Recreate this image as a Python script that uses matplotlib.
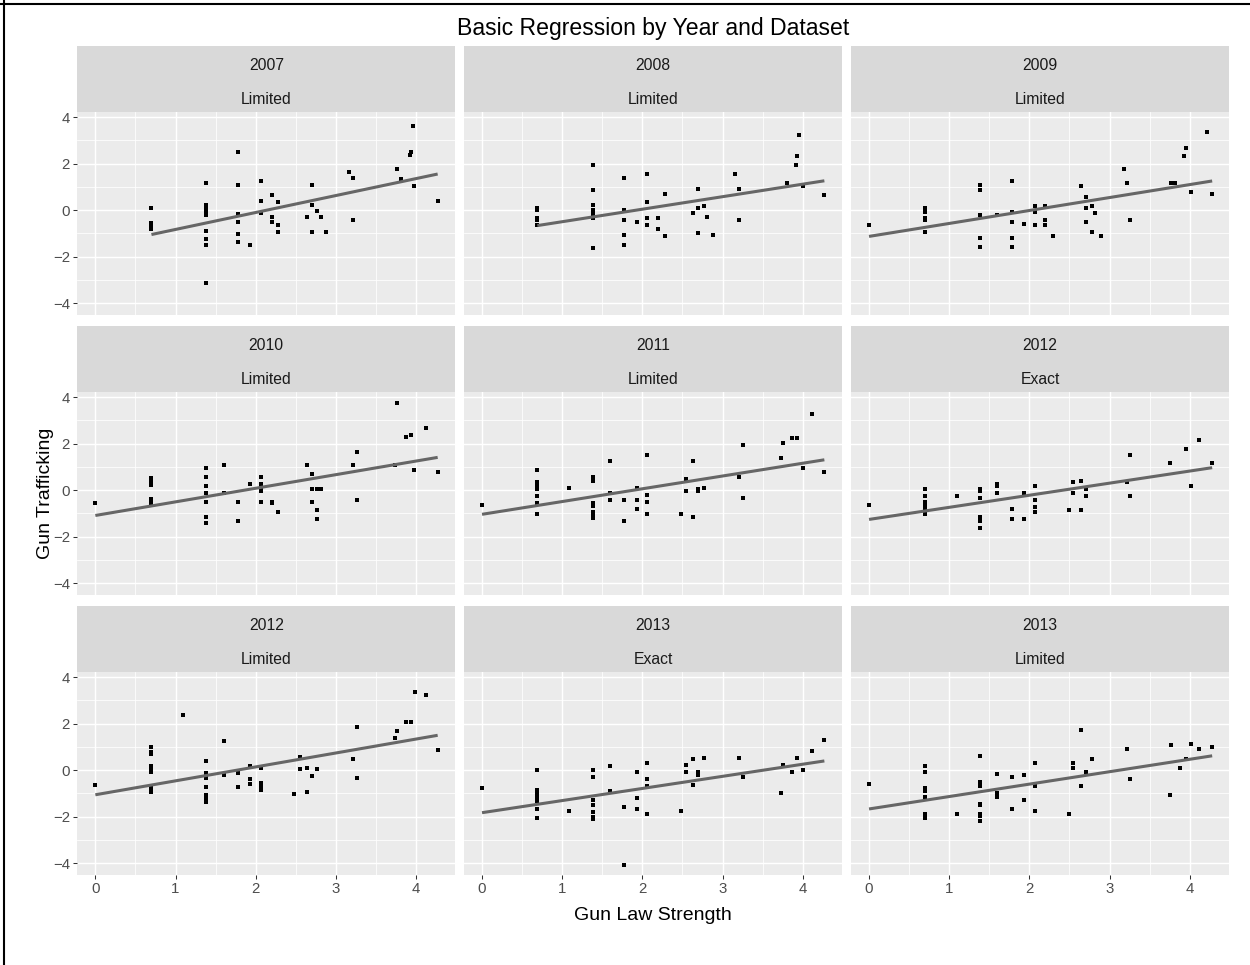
import matplotlib
matplotlib.use("Agg")
import matplotlib.pyplot as plt
import numpy as np
from matplotlib.lines import Line2D

plt.rcParams['font.family'] = ['Liberation Sans', 'DejaVu Sans']

# ---------------- data ----------------
panel_years = ["2007", "2008", "2009", "2010", "2011", "2012", "2012", "2013", "2013"]
panel_sets = ["Limited", "Limited", "Limited", "Limited", "Limited", "Exact", "Limited", "Exact", "Limited"]

x_2007_lim = [0.70]*5 + [1.38]*10 + [1.78]*6 + [1.93] + [2.07]*3 + [2.20]*3 + [2.28]*3 + [2.64] + [2.70]*3 + [2.77, 2.82, 2.88, 3.17, 3.21, 3.21, 3.76, 3.81, 3.92, 3.94, 3.96, 3.98, 4.27]
y_2007_lim = [0.10, -0.55, -0.65, -0.75, -0.82,
              1.18, 0.2, 0.1, 0.0, -0.1, -0.2, -0.89, -1.26, -1.5, -3.15,
              2.52, 1.09, -0.17, -0.5, -1.03, -1.35,
              -1.5,
              1.25, 0.4, -0.13,
              0.63, -0.29, -0.5,
              0.33, -0.66, -0.96,
              -0.29,
              1.09, 0.24, -0.96,
              -0.04, -0.29, -0.96, 1.62, 1.39, -0.43, 1.76, 1.32, 2.38, 2.52, 3.6, 1.02, 0.4]

x_2008_lim = [0.69]*5 + [1.38]*8 + [1.77]*5 + [1.93] + [2.06]*4 + [2.19]*2 + [2.28]*2 + [2.63] + [2.70]*3 + [2.77, 2.81, 2.88, 3.16, 3.21, 3.21, 3.80, 3.91, 3.93, 3.95, 4.00, 4.27]
y_2008_lim = [0.1, 0.01, -0.34, -0.43, -0.66,
              1.92, 0.86, 0.24, 0.0, -0.1, -0.17, -0.34, -1.65,
              1.39, 0.01, -0.43, -1.05, -1.5,
              -0.52,
              1.55, 0.33, -0.36, -0.66,
              -0.36, -0.82,
              0.7, -1.12,
              -0.13,
              0.93, 0.1, -0.97,
              0.17, -0.29, -1.05, 1.55, 0.93, -0.43, 1.16, 1.92, 2.31, 3.21, 1.02, 0.63]

x_2009_lim = [0.0] + [0.70]*6 + [1.38]*5 + [1.60] + [1.78]*5 + [1.93] + [2.07]*3 + [2.20]*3 + [2.29, 2.64] + [2.71]*3 + [2.78]*2 + [2.82, 2.89, 3.18, 3.22, 3.26, 3.77, 3.82, 3.93, 3.95, 4.01, 4.21, 4.28]
y_2009_lim = [-0.66,
              0.1, 0.01, -0.06, -0.36, -0.43, -0.96,
              1.09, 0.86, -0.2, -1.19, -1.58,
              -0.2,
              1.25, -0.06, -0.52, -1.19, -1.58,
              -0.59,
              0.17, -0.06, -0.66,
              0.17, -0.43, -0.66,
              -1.12, 1.02,
              0.56, 0.1, -0.52,
              0.17, -0.96,
              -0.13, -1.12, 1.78, 1.16, -0.43, 1.16, 1.16, 2.31, 2.68, 0.79, 3.37, 0.7]

x_2010_lim = [0.0] + [0.70]*6 + [1.38]*7 + [1.60]*2 + [1.78]*2 + [1.93] + [2.07]*5 + [2.20]*2 + [2.28, 2.64] + [2.70]*3 + [2.77]*3 + [2.82, 3.21, 3.26, 3.26, 3.74, 3.76, 3.88, 3.94, 3.98, 4.12, 4.27]
y_2010_lim = [-0.57,
              0.53, 0.43, 0.33, 0.2, -0.4, -0.55,
              0.94, 0.56, 0.19, -0.13, -0.5, -1.17, -1.41,
              1.1, -0.11,
              -0.5, -1.33,
              0.26,
              0.56, 0.26, 0.1, -0.04, -0.5,
              -0.5, -0.57,
              -0.96, 1.1,
              0.71, 0.04, -0.5,
              0.04, -0.87, -1.26,
              0.04, 1.1, 1.63, -0.41, 1.06, 3.74, 2.3, 2.39, 0.87, 2.69, 0.8]

x_2011_lim = [0.0] + [0.69]*7 + [1.09] + [1.38]*7 + [1.60]*3 + [1.77]*2 + [1.93]*3 + [2.06]*4 + [2.48] + [2.54]*2 + [2.63]*2 + [2.70]*2 + [2.77, 3.21, 3.25, 3.25, 3.73, 3.75, 3.87, 3.93, 4.00, 4.11, 4.27]
y_2011_lim = [-0.64,
              0.87, 0.34, 0.2, 0.07, -0.27, -0.57, -1.03,
              0.11,
              0.57, 0.4, -0.57, -0.69, -0.96, -1.1, -1.19,
              1.26, -0.11, -0.41,
              -0.41, -1.33,
              0.11, -0.41, -0.8,
              1.49, -0.19, -0.5, -1.03,
              -1.03,
              0.5, -0.04,
              1.26, -1.17,
              0.03, -0.04,
              0.11, 0.57, 1.93, -0.34, 1.4, 2.01, 2.23, 2.23, 0.94, 3.29, 0.8]

x_2012_exa = [0.0] + [0.70]*6 + [1.10] + [1.38]*6 + [1.60]*3 + [1.78]*2 + [1.93]*2 + [2.07]*4 + [2.49] + [2.55]*2 + [2.64]*2 + [2.71]*2 + [3.22, 3.26, 3.26, 3.75, 3.95, 4.01, 4.12, 4.28]
y_2012_exa = [-0.64,
              0.04, -0.27, -0.5, -0.69, -0.8, -1.03,
              -0.27,
              0.04, -0.04, -0.34, -1.17, -1.33, -1.63,
              0.26, 0.19, -0.11,
              -0.8, -1.26,
              -0.11, -1.26,
              0.19, -0.41, -0.71, -0.96,
              -0.87,
              0.34, -0.11,
              0.41, -0.87,
              0.04, -0.27,
              0.34, 1.49, -0.27, 1.17, 1.79, 0.19, 2.16, 1.17]

x_2012_lim = [0.0] + [0.70]*8 + [1.09] + [1.38]*7 + [1.60]*2 + [1.78]*2 + [1.93]*3 + [2.07]*4 + [2.48] + [2.55]*2 + [2.64]*2 + [2.70, 2.77, 3.21, 3.26, 3.26, 3.74, 3.76, 3.88, 3.94, 3.99, 4.12, 4.27]
y_2012_lim = [-0.64,
              0.99, 0.8, 0.71, 0.17, 0.0, -0.09, -0.76, -0.94,
              2.39,
              0.41, -0.11, -0.33, -0.73, -1.09, -1.2, -1.37,
              1.24, -0.2,
              -0.11, -0.73,
              0.19, -0.4, -0.6,
              0.11, -0.57, -0.7, -0.86,
              -1.03,
              0.57, 0.03,
              0.1, -0.96,
              -0.27, 0.03, 0.49, 1.86, -0.34, 1.4, 1.7, 2.07, 2.07, 3.37, 3.21, 0.87]

x_2013_exa = [0.0] + [0.69]*7 + [1.09] + [1.38]*7 + [1.60]*2 + [1.77]*2 + [1.93]*3 + [2.06]*4 + [2.48] + [2.54]*2 + [2.63]*2 + [2.70]*2 + [2.77, 3.21, 3.25, 3.73, 3.75, 3.87, 3.93, 4.00, 4.11, 4.27]
y_2013_exa = [-0.76,
              0.0, -0.87, -1.0, -1.15, -1.33, -1.67, -2.04,
              -1.74,
              0.0, -0.3, -1.29, -1.5, -1.81, -2.0, -2.1,
              0.16, -0.9,
              -1.59, -4.09,
              -0.07, -1.21, -1.67,
              0.31, -0.37, -0.67, -1.9,
              -1.74,
              0.23, -0.07,
              0.46, -0.63,
              -0.07, -0.19,
              0.53, 0.53, -0.3, -0.99, 0.23, -0.07, 0.53, 0.0, 0.84, 1.3]

x_2013_lim = [0.0] + [0.70]*7 + [1.10] + [1.38]*8 + [1.60]*3 + [1.78]*2 + [1.93]*2 + [2.07]*3 + [2.49] + [2.55]*2 + [2.64]*2 + [2.71, 2.78, 3.22, 3.26, 3.75, 3.77, 3.88, 3.95, 4.01, 4.12, 4.28]
y_2013_lim = [-0.6,
              0.16, -0.07, -0.76, -0.9, -1.14, -1.9, -2.07,
              -1.89,
              0.61, -0.53, -0.69, -1.44, -1.51, -1.89, -1.97, -2.2,
              -0.16, -0.99, -1.14,
              -0.3, -1.67,
              -0.23, -1.29,
              0.3, -0.67, -1.74,
              -1.89,
              0.3, 0.09,
              1.74, -0.67,
              -0.07, 0.46, 0.91, -0.37, -1.06, 1.07, 0.09, 0.46, 1.14, 0.91, 0.99]

fit_intercepts = [-1.56, -1.036, -1.13, -1.09, -1.04, -1.26, -1.06, -1.83, -1.67]
fit_slopes = [0.729, 0.538, 0.557, 0.585, 0.549, 0.52, 0.599, 0.521, 0.534]

x_ticks = [0, 1, 2, 3, 4]
y_ticks = [-4, -2, 0, 2, 4]

title = "Basic Regression by Year and Dataset"
x_title = "Gun Law Strength"
y_title = "Gun Trafficking"

panels_x = [x_2007_lim, x_2008_lim, x_2009_lim, x_2010_lim, x_2011_lim,
            x_2012_exa, x_2012_lim, x_2013_exa, x_2013_lim]
panels_y = [y_2007_lim, y_2008_lim, y_2009_lim, y_2010_lim, y_2011_lim,
            y_2012_exa, y_2012_lim, y_2013_exa, y_2013_lim]

# ---------------- layout ----------------
W, H = 1250, 965
fig = plt.figure(figsize=(W / 100, H / 100), dpi=100)
fig.patch.set_facecolor("white")

def fx(px):
    return px / W

def fy(py):
    return 1 - py / H

col_left = [77.3, 464.0, 851.0]
col_w = 378.0
row_top = [112.0, 392.0, 672.0]
row_h = 203.0
strip_h = 66.0

xlim = (-0.225, 4.49)
ylim = (-4.51, 4.22)

axis_text_size = 10.8
strip_text_size = 11.3

for i in range(9):
    r, c = divmod(i, 3)
    L = col_left[c]
    T = row_top[r]
    ax = fig.add_axes([fx(L), fy(T + row_h), col_w / W, row_h / H])
    ax.set_facecolor("#EBEBEB")
    ax.set_xticks(x_ticks)
    ax.set_yticks(y_ticks)
    ax.set_xticks(np.arange(-0.5, 4.6, 0.5), minor=True)
    ax.set_yticks(np.arange(-5, 5.1, 1), minor=True)
    ax.set_xlim(*xlim)
    ax.set_ylim(*ylim)
    ax.grid(which="major", color="white", linewidth=1.05)
    ax.grid(which="minor", color="white", linewidth=0.55)
    ax.set_axisbelow(True)
    for s in ax.spines.values():
        s.set_visible(False)
    ax.tick_params(which="minor", length=0)
    ax.tick_params(which="major", length=2.7, width=0.75, color="#333333",
                   labelsize=axis_text_size, labelcolor="#4D4D4D", pad=2.5)
    if c != 0:
        ax.tick_params(axis="y", left=False, labelleft=False)
    if r != 2:
        ax.tick_params(axis="x", bottom=False, labelbottom=False)

    xs = np.array(panels_x[i])
    ys = np.array(panels_y[i])
    ax.scatter(xs, ys, s=5.5, marker="s", color="black", linewidths=0, zorder=3)
    xl = np.array([xs.min(), xs.max()])
    ax.plot(xl, fit_intercepts[i] + fit_slopes[i] * xl, color="#666666",
            linewidth=2.2, solid_capstyle="butt", zorder=4)
    ax.set_xlim(*xlim)
    ax.set_ylim(*ylim)

    # strip
    sax = fig.add_axes([fx(L), fy(T), col_w / W, strip_h / H])
    sax.set_facecolor("#D9D9D9")
    sax.set_xticks([])
    sax.set_yticks([])
    for s in sax.spines.values():
        s.set_visible(False)
    sax.text(0.5, 1 - 19.0 / strip_h, panel_years[i], ha="center", va="center",
             fontsize=strip_text_size, color="#1A1A1A", transform=sax.transAxes)
    sax.text(0.5, 1 - 53.0 / strip_h, panel_sets[i], ha="center", va="center",
             fontsize=strip_text_size, color="#1A1A1A", transform=sax.transAxes)

center_x = (col_left[0] + col_left[2] + col_w) / 2
fig.text(fx(center_x), fy(28), title, ha="center", va="center", fontsize=16.6, color="black")
fig.text(fx(center_x), fy(915), x_title, ha="center", va="center", fontsize=14.0, color="black")
fig.text(fx(45), fy(493), y_title, ha="center", va="center", rotation=90, fontsize=14.0, color="black")

# frame lines at left and top edges
fig.add_artist(Line2D([fx(4), fx(4)], [0, 1], color="black", linewidth=1.5, transform=fig.transFigure))
fig.add_artist(Line2D([0, 1], [fy(4), fy(4)], color="black", linewidth=1.5, transform=fig.transFigure))

fig.savefig("out.png", dpi=100, facecolor="white")
